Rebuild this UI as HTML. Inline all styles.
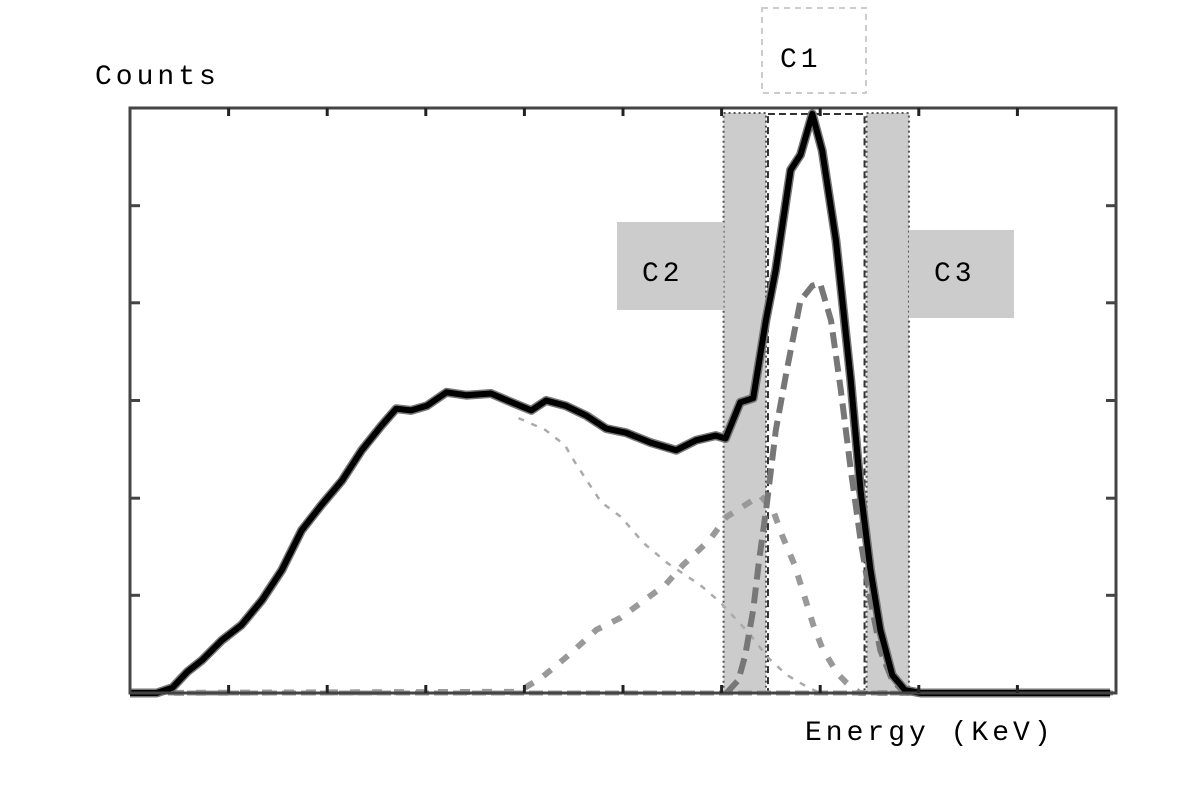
<!DOCTYPE html>
<html><head><meta charset="utf-8"><style>
html,body{margin:0;padding:0;background:#fff;}
svg{display:block;}
text{font-family:"Liberation Mono","DejaVu Sans Mono",monospace;fill:#000;letter-spacing:4px;}
</style></head><body>
<svg id="chart" width="1179" height="796" viewBox="0 0 1179 796" xmlns="http://www.w3.org/2000/svg">
<g id="regions"></g>
<g id="series"></g>
<g id="axes"></g>
<rect x="762" y="8" width="104" height="85" fill="none" stroke="#ccc" stroke-width="2" stroke-dasharray="6,5"/>
<text x="780" y="67" font-size="28">C1</text>
<text x="642" y="281" font-size="28">C2</text>
<text x="934" y="281" font-size="28">C3</text>
<text x="95" y="84" font-size="28">Counts</text>
<text x="805" y="740" font-size="28">Energy (KeV)</text>
</svg>
<script>
const xTicks=[10,20,30,40,50,60,70,80,90];
const yTicks=[16.7,33.3,50,66.7,83.3];
const totalX=[0,2.7,4.3,5.8,7.3,9.3,11.3,13.4,15.4,17.4,19.4,21.5,23.5,25.5,27.0,28.5,30.1,32.1,34.1,36.6,38.7,40.7,42.2,44.2,46.3,48.3,50.3,52.8,55.4,57.4,59.4,60.4,61.9,63.2,64.5,65.5,67.0,68.0,69.2,70.2,71.6,73.1,74.1,75.1,76.1,77.3,78.6,80.2,99.4];
const totalY=[0,0,0.9,3.6,5.6,9.0,11.6,15.9,21.0,27.8,32.1,36.3,41.5,45.7,48.6,48.3,49.1,51.4,50.9,51.2,49.7,48.3,50.0,49.1,47.4,45.2,44.5,42.8,41.5,43.2,44.0,43.5,49.7,50.4,63.8,72.4,89.4,92.0,99.0,92.7,77.3,53.4,34.6,21.0,10.8,3.1,0.5,0,0];
const comptonX=[39.4,42.1,44.1,45.1,46.5,47.8,49.8,52.1,54.5,57.8,59.8,62.9,64.6,66.6,68.7,70.0];
const comptonY=[47.0,45.0,42.4,39.5,35.9,32.6,30.1,25.6,22.2,18.5,15.6,10.0,6.2,3.1,1.0,0];
const peak2X=[0,39.4,41.8,44.5,47.3,49.7,52.2,54.3,56.1,58.8,60.5,63.2,63.9,65.2,66.2,67.4,68.3,69.3,70.2,71.7,72.7,74.0,100];
const peak2Y=[0,0.2,2.7,6.5,10.8,12.8,15.9,18.5,21.9,26.2,30.1,33.0,33.8,31.3,26.7,21.9,17.1,11.6,7.7,3.4,1.7,0,0];
const peak1X=[60.5,61.7,62.4,63.2,63.8,64.5,65.5,66.6,68.0,69.2,70.0,71.1,72.1,73.1,74.1,75.1,76.1,77.3,78.6];
const peak1Y=[0,2.2,6.5,14.2,22.7,31.2,44.9,55.1,67.1,69.6,70.0,63.7,51.7,38.1,26.1,15.9,7.3,2.2,0];
const regionC2=[60.2,64.5];
const regionC1=[64.5,74.7];
const regionC3=[74.7,79.0];

const L=130,R=1116,T=108,B=693;
const sx=v=>L+(v/100)*(R-L);
const sy=v=>B-(v/100)*(B-T);
const NS="http://www.w3.org/2000/svg";
function mk(tag,parent,attrs){const e=document.createElementNS(NS,tag);for(const k in attrs)e.setAttribute(k,attrs[k]);parent.appendChild(e);return e;}
const reg=document.getElementById('regions'),ser=document.getElementById('series'),ax=document.getElementById('axes');
let r=mk('rect',reg,{x:sx(regionC2[0]),y:113,width:sx(regionC2[1])-sx(regionC2[0]),height:B-113,fill:'#cccccc',stroke:'#555','stroke-width':2,'stroke-dasharray':'2,3'});


r=mk('rect',reg,{x:617,y:222,width:sx(regionC2[0])-617,height:88,fill:'#cccccc'});


r=mk('rect',reg,{x:sx(regionC3[0]),y:113,width:sx(regionC3[1])-sx(regionC3[0]),height:B-113,fill:'#cccccc',stroke:'#555','stroke-width':2,'stroke-dasharray':'2,3'});


r=mk('rect',reg,{x:sx(regionC3[1]),y:230,width:1014-sx(regionC3[1]),height:88,fill:'#cccccc'});


r=mk('rect',reg,{x:sx(regionC1[0])+2,y:114,width:sx(regionC1[1])-sx(regionC1[0])-4,height:B-114,fill:'#fff',stroke:'#333','stroke-width':2,'stroke-dasharray':'7,4'});


function path(xs,ys){return xs.map((x,i)=>(i?'L':'M')+sx(x).toFixed(1)+','+sy(ys[i]).toFixed(1)).join('');}
let p=mk('path',ser,{d:'M'+L+','+B+'L'+R+','+B,stroke:'#999','stroke-width':5,fill:'none','stroke-dasharray':'14,5'});


p=mk('path',ser,{d:path(comptonX,comptonY),stroke:'#aaa','stroke-width':2.5,fill:'none','stroke-dasharray':'6,8'});


p=mk('path',ser,{d:path(peak2X,peak2Y),stroke:'#999','stroke-width':6,fill:'none','stroke-dasharray':'10,12'});


p=mk('path',ser,{d:path(peak1X,peak1Y),stroke:'#777','stroke-width':6,fill:'none','stroke-dasharray':'16,8'});


p=mk('path',ser,{d:path(totalX,totalY),stroke:'#777','stroke-width':9,fill:'none','stroke-linejoin':'round'});


p=mk('path',ser,{d:path(totalX,totalY),stroke:'#000','stroke-width':6,fill:'none','stroke-linejoin':'round'});


let f=mk('rect',ax,{x:L,y:T,width:R-L,height:B-T,fill:'none',stroke:'#444','stroke-width':3});


xTicks.forEach(t=>{
  let a=mk('line',ax,{x1:sx(t),x2:sx(t),y1:T,y2:T+8,stroke:'#222','stroke-width':3});
  
  
  let b=mk('line',ax,{x1:sx(t),x2:sx(t),y1:B,y2:B-8,stroke:'#222','stroke-width':3});
  
  
});
yTicks.forEach(t=>{
  let a=mk('line',ax,{x1:L,x2:L+10,y1:sy(t),y2:sy(t),stroke:'#444','stroke-width':3});
  
  
  let b=mk('line',ax,{x1:R,x2:R-10,y1:sy(t),y2:sy(t),stroke:'#444','stroke-width':3});
  
  
});
</script>
</body></html>
